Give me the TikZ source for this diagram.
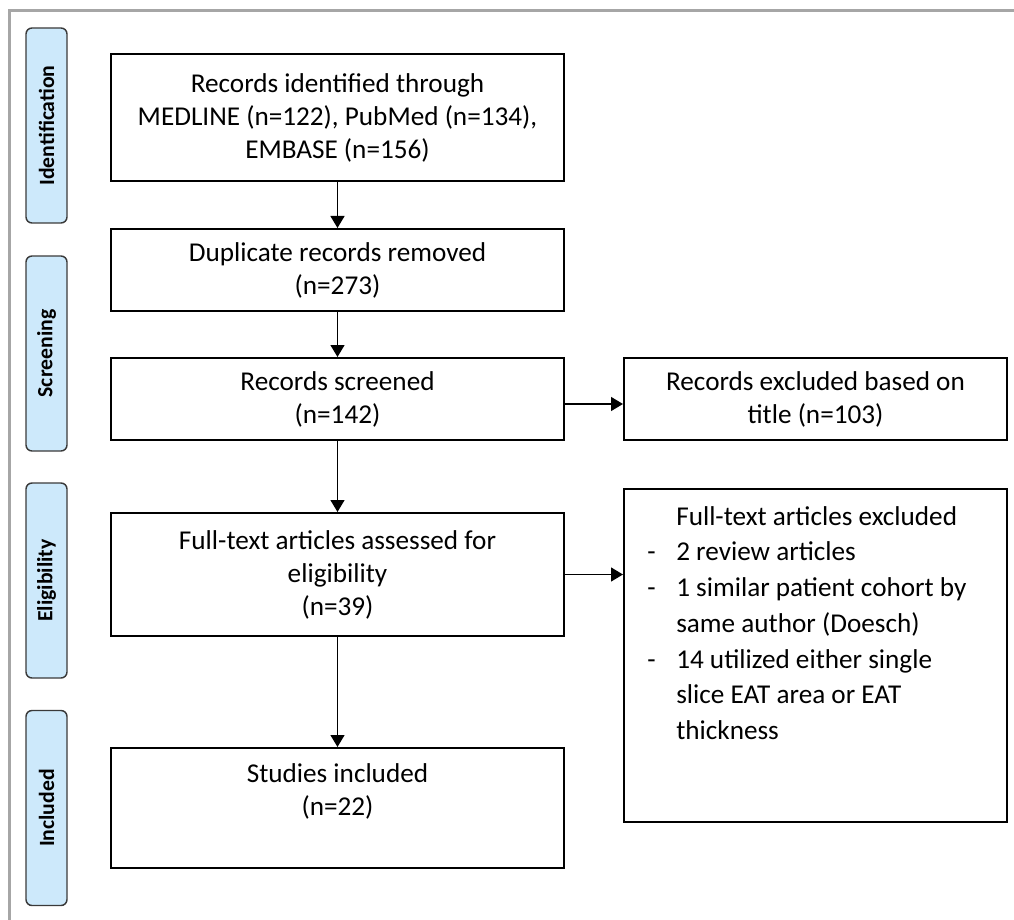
\documentclass[tikz,border=0pt]{standalone}
\usepackage{fontspec}
\setmainfont{Carlito}
\usetikzlibrary{arrows.meta}
\definecolor{framegray}{HTML}{A6A6A6}
\definecolor{stagefill}{HTML}{CDE9FB}
\definecolor{stageline}{HTML}{3A3A3A}
\begin{document}
\begin{tikzpicture}[x=0.75pt,y=-0.75pt,
  box/.style={draw=black, line width=1.5pt, inner sep=0pt, align=center,
    font=\fontsize{20.4}{24.75}\selectfont, minimum width=339.75pt},
  sidebox/.style={draw=black, line width=1.5pt, inner sep=0pt,
    minimum width=287.25pt},
  txt/.style={inner sep=0pt, align=center, font=\fontsize{20.4}{24.75}\selectfont},
  stage/.style={draw=stageline, fill=stagefill, line width=1.1pt, rounded corners=4.5pt,
    rotate=90, minimum width=146.25pt, minimum height=30.75pt, inner sep=0pt,
    font=\bfseries\fontsize{16.3}{18}\selectfont},
  arr/.style={line width=1.1pt, -{Triangle[length=9pt,width=10.5pt]}}
]
\useasboundingbox (0,0) rectangle (1014,920);
% frame
\coordinate (fb) at (9,920);
\coordinate (ftl) at (9,11);
\coordinate (fr) at (1014,11);
\draw[framegray, line width=2.25pt] (fb) -- (ftl) -- (fr);

% stage labels
\node[stage] (s1) at (46.5,125.5) {Identification};
\node[stage] (s2) at (46.5,353.5) {Screening};
\node[stage] (s3) at (46.5,580.5) {Eligibility};
\node[stage] (s4) at (46.5,808) {Included};

% main boxes
\node[box, minimum height=95.25pt] (b1) at (337.5,117.5)
  {Records identified through\\MEDLINE (n=122), PubMed (n=134),\\EMBASE (n=156)};
\node[box, minimum height=61.5pt] (b2) at (337.5,270)
  {Duplicate records removed\\(n=273)};
\node[box, minimum height=61.5pt] (b3) at (337.5,399)
  {Records screened\\(n=142)};
\node[box, minimum height=92.25pt] (b4) at (337.5,574.5)
  {Full-text articles assessed for\\eligibility\\(n=39)};
\node[box, minimum height=90pt] (b5) at (337.5,808) {};
\node[txt] (t5) at (337.5,791.5) {Studies included\\(n=22)};

% side boxes
\node[sidebox, align=center, font=\fontsize{20.4}{24.75}\selectfont,
  minimum height=61.5pt] (r1) at (815.5,399)
  {Records excluded based on\\title (n=103)};
\node[sidebox, minimum height=249.75pt] (r2) at (815.5,655.5) {};
\node[inner sep=0pt, anchor=west, align=left,
  font=\fontsize{20.4}{26.8}\selectfont] (t6) at (647,623)
  {\hspace*{21.75pt}Full-text articles excluded\\
   \makebox[21.75pt][l]{-}2 review articles\\
   \makebox[21.75pt][l]{-}1 similar patient cohort by\\
   \hspace*{21.75pt}same author (Doesch)\\
   \makebox[21.75pt][l]{-}14 utilized either single\\
   \hspace*{21.75pt}slice EAT area or EAT\\
   \hspace*{21.75pt}thickness};

% arrows
\draw[arr] (b1) -- (b2);
\draw[arr] (b2) -- (b3);
\draw[arr] (b3) -- (b4);
\draw[arr] (b4) -- (b5);
\draw[arr] ([yshift=-3.75pt]b3.east) -- ([yshift=-3.75pt]r1.west);
\draw[arr] (b4.east) -- (b4.east -| r2.west);
\end{tikzpicture}
\end{document}
